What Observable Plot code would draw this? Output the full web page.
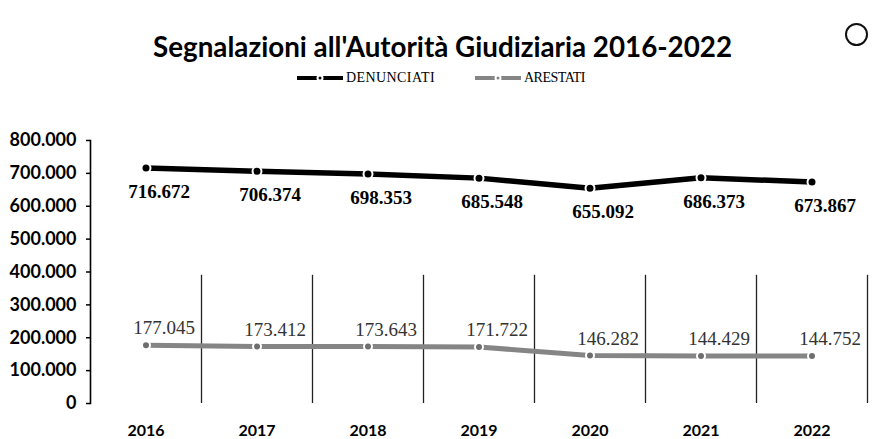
<!DOCTYPE html>
<html><head><meta charset="utf-8">
<script src="https://cdn.jsdelivr.net/npm/d3@7"></script>
<script src="https://cdn.jsdelivr.net/npm/@observablehq/plot@0.6"></script>
<style>
body{margin:0;background:#fff;width:872px;height:439px;overflow:hidden;position:relative}
#title{position:absolute;left:153px;top:31px;font-family:Lato,sans-serif;font-weight:700;font-size:29px;line-height:30px;white-space:nowrap;transform-origin:0 50%;color:#000}
#legend{position:absolute;left:297px;top:70px;display:flex;align-items:center;font-family:"Liberation Serif",serif;font-size:14px;color:#000}
#legend .item{display:flex;align-items:center}
#legend svg{margin-right:3px}
#logo{position:absolute;left:845px;top:23px;width:19px;height:19px;border:2.5px solid #111;border-radius:50%}
#chart{position:absolute;left:0;top:110px}
</style></head><body>
<div id="title">Segnalazioni all'Autorità Giudiziaria 2016-2022</div>
<div id="legend"></div>
<div id="logo"></div>
<div id="chart"></div>
<script>
const years = [2016, 2017, 2018, 2019, 2020, 2021, 2022];
const denunciati = [716672, 706374, 698353, 685548, 655092, 686373, 673867];
const arestati = [177045, 173412, 173643, 171722, 146282, 144429, 144752];
const seriesNames = ["DENUNCIATI", "ARESTATI"];
const seriesColors = ["#000000", "#858585"];
const yTicks = [0, 100000, 200000, 300000, 400000, 500000, 600000, 700000, 800000];

const it = d3.formatLocale({decimal: ",", thousands: ".", grouping: [3], currency: ["", " €"]});
const fmt = it.format(",d");

const rowsD = years.map((y, i) => ({year: y, value: denunciati[i]}));
const rowsA = years.map((y, i) => ({year: y, value: arestati[i]}));

// scale title to reference width
const t = document.getElementById("title");
const w = t.getBoundingClientRect().width;
t.style.transform = `scaleX(${579 / w})`;

// legend
const legend = d3.select("#legend");
const legendTextWidths = [89, 61];
const legendGaps = [40, 0];
seriesNames.forEach((name, i) => {
  const item = legend.append("div").attr("class", "item").style("margin-right", legendGaps[i] + "px");
  const s = item.append("svg").attr("width", 46).attr("height", 10);
  s.append("line").attr("x1", 0).attr("x2", 46).attr("y1", 5).attr("y2", 5)
    .attr("stroke", seriesColors[i]).attr("stroke-width", 4);
  s.append("circle").attr("cx", 23).attr("cy", 5).attr("r", 2.5)
    .attr("fill", seriesColors[i]).attr("stroke", "#fff").attr("stroke-width", 2);
  const sp = item.append("span").text(name).style("display", "inline-block").style("white-space", "nowrap");
  const tw = sp.node().getBoundingClientRect().width;
  sp.style("letter-spacing", ((legendTextWidths[i] - tw) / name.length) + "px");
});

const chart = Plot.plot({
  width: 872,
  height: 329,
  marginLeft: 90,
  marginRight: 5,
  marginTop: 30,
  marginBottom: 36,
  x: {domain: [2015.5, 2022.5], axis: null},
  y: {domain: [0, 800000], axis: null},
  marks: [
    Plot.ruleX(years, {x: d => d + 0.5, y1: 0, y2: 390000, stroke: "#222", strokeWidth: 1.3}),
    Plot.frame({anchor: "left", stroke: "#000", strokeWidth: 1.6}),
    Plot.axisY({ticks: yTicks, tickSize: 4, tickPadding: 10, tickFormat: fmt, label: null,
      fontSize: 18, fontWeight: "bold", fontFamily: "Lato", stroke: "#000", strokeWidth: 1.5}),
    Plot.axisX({ticks: years, tickSize: 0, tickPadding: 21, tickFormat: d => String(d), label: null,
      fontSize: 16, fontWeight: "bold", fontFamily: "Lato"}),
    Plot.line(rowsA, {x: "year", y: "value", stroke: seriesColors[1], strokeWidth: 5}),
    Plot.dot(rowsA, {x: "year", y: "value", r: 4, fill: "#6e6e6e", stroke: "#fff", strokeWidth: 2}),
    Plot.line(rowsD, {x: "year", y: "value", stroke: seriesColors[0], strokeWidth: 5.5}),
    Plot.dot(rowsD, {x: "year", y: "value", r: 4.5, fill: "#000", stroke: "#fff", strokeWidth: 2}),
    Plot.text(rowsD, {x: "year", y: "value", text: d => fmt(d.value), dx: 13, dy: 24,
      fontSize: 19, fontWeight: "bold", fontFamily: "Liberation Serif", fill: "#000"}),
    Plot.text(rowsA, {x: "year", y: "value", text: d => fmt(d.value), dx: 18, dy: -17,
      fontSize: 19, fontFamily: "Liberation Serif", fill: "#333"})
  ]
});
chart.style.background = "transparent";
document.getElementById("chart").appendChild(chart);
</script>
</body></html>
